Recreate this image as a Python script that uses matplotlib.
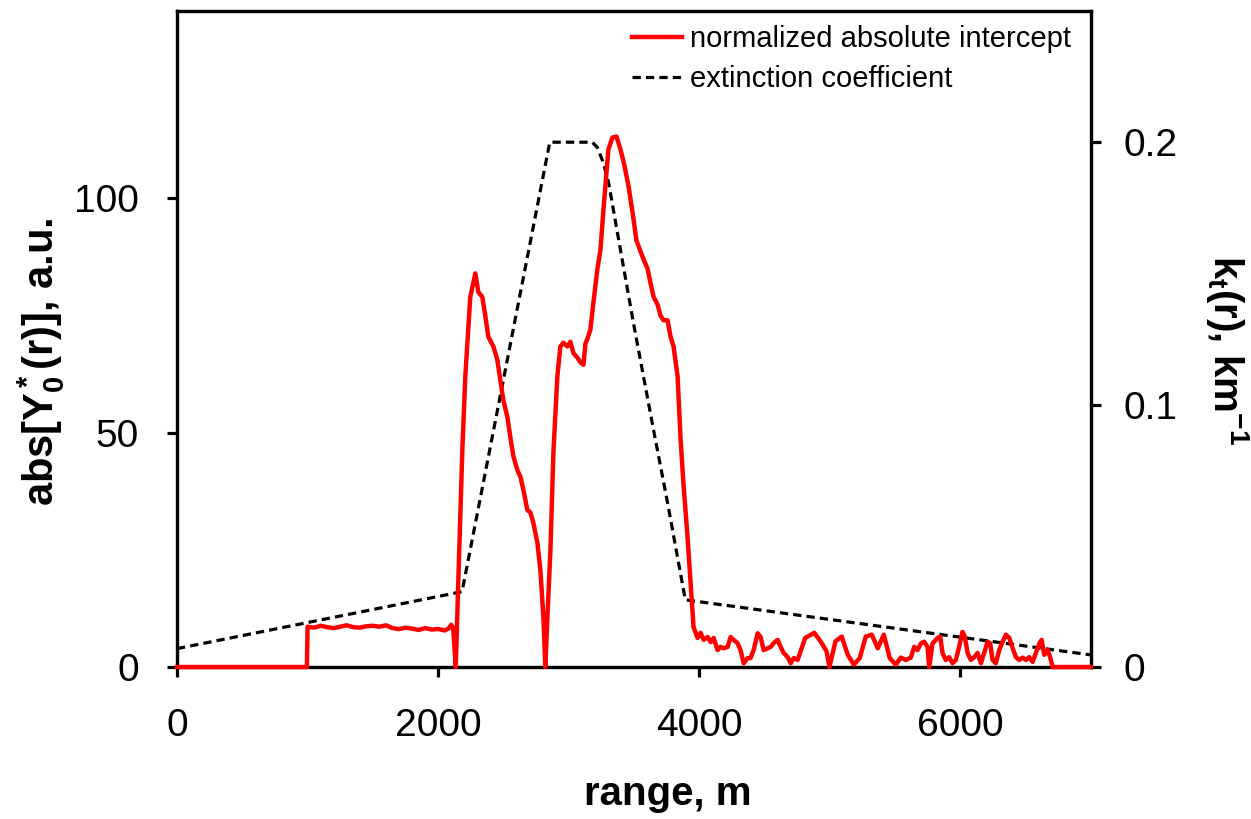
import matplotlib
matplotlib.use("Agg")
import matplotlib.pyplot as plt

plt.rcParams['font.family'] = 'Liberation Sans'
plt.rcParams['mathtext.fontset'] = 'custom'
plt.rcParams['mathtext.rm'] = 'Liberation Sans:bold'
plt.rcParams['mathtext.it'] = 'Liberation Sans:bold'
plt.rcParams['mathtext.bf'] = 'Liberation Sans:bold'

# normalized absolute intercept (left axis)
range_m = [0, 995, 1000, 1050, 1100, 1150, 1200, 1250, 1300, 1350, 1400, 1450,
           1500, 1550, 1600, 1650, 1700, 1750, 1800, 1850, 1900, 1950, 2000,
           2050, 2080, 2100, 2115, 2135,
           2154, 2185, 2208, 2246, 2285, 2308, 2338, 2361, 2384, 2423, 2453,
           2476, 2499, 2530, 2553, 2576, 2607, 2630, 2653, 2683, 2706, 2729,
           2760, 2783, 2806, 2821, 2837, 2860, 2883, 2913, 2936, 2959, 2990,
           3013, 3036, 3067, 3090, 3113, 3128, 3143, 3166, 3190, 3220, 3243,
           3266, 3281, 3304, 3335, 3366, 3396, 3427, 3458, 3489, 3519, 3573,
           3604, 3626, 3650, 3680, 3703, 3726, 3757, 3780, 3803, 3834, 3856,
           3879, 3910, 3933, 3956, 3987, 4010,
           4033, 4064, 4087, 4110, 4140, 4163, 4186, 4217, 4240, 4263, 4293,
           4316, 4340, 4370, 4393, 4416, 4447, 4470, 4493, 4523, 4547, 4570,
           4600, 4623, 4646, 4677, 4700, 4723, 4753,
           4811, 4881, 4928, 4974, 4997, 5043, 5091, 5137, 5183, 5229, 5275,
           5321, 5367, 5413, 5459, 5505,
           5543, 5582, 5620, 5646, 5671, 5697, 5722, 5748, 5761, 5786, 5825,
           5845, 5863, 5888, 5914, 5940, 5965, 5990, 6016, 6034, 6055, 6080,
           6105, 6131, 6157, 6182, 6208, 6228, 6246, 6271, 6297, 6323, 6348,
           6374, 6400, 6425, 6450, 6476, 6502, 6527, 6553, 6578, 6604, 6622,
           6642, 6668, 6688, 6706, 7000]
intercept = [0, 0, 8.6, 8.4, 8.8, 8.5, 8.3, 8.6, 8.9, 8.5, 8.4, 8.7,
             8.8, 8.6, 8.9, 8.3, 8.1, 8.4, 8.2, 7.9, 8.3, 8.0, 8.1,
             7.8, 8.2, 9.0, 8.3, 0,
             18, 46, 62, 79, 84, 80, 79, 75, 70.5, 68.4, 65.6,
             61.3, 57, 53.4, 49, 45, 42, 40.6, 37.8, 33.5, 33, 30.8,
             26.5, 20.7, 10.7, 0, 10.7, 25, 46, 62, 68.4, 69.2, 68.4,
             69.4, 67, 66, 65, 64.5, 69, 70, 72, 78, 85, 89,
             97.6, 102.6, 110.5, 113, 113.2, 110.5, 107, 102.6, 97, 91, 87,
             85, 82, 79, 77.4, 75, 74, 74, 70.5, 68.4, 62, 49,
             39, 27.8, 18, 8.5, 6.2, 7.3,
             5.8, 6.4, 5.3, 6.2, 3.6, 4.3, 4, 4.3, 6.4, 5.8, 5.1,
             3.6, 0.8, 1.9, 1.9, 3.6, 7.2, 6.4, 3.6, 4, 4.3, 5.1,
             5.8, 4.3, 3, 2.1, 0.8, 1.9, 1.5,
             6.2, 7.3, 5.5, 3.4, 0, 5.5, 6.5, 2.6, 0.5, 1.9, 6.5,
             6.9, 4, 6.9, 1.9, 0.5,
             2, 1.5, 2, 4.3, 3.6, 5, 5.4, 4.3, 0, 5, 6.2,
             6.5, 3, 1.5, 2.1, 0.8, 1.5, 4.3, 7.5, 6.4, 3, 1.5,
             2.1, 3, 0.8, 3, 5.4, 5, 1.5, 0.8, 3.6, 5.4, 6.9,
             6.2, 4, 2.1, 1.5, 2, 1.5, 2.1, 1.1, 3, 5, 5.8,
             2.6, 3.6, 2, 0, 0]

# extinction coefficient (right axis)
ext_range = [0, 2183, 2855, 3180, 3220, 3266, 3304, 3396, 3496, 3649, 3757, 3893, 7000]
extinction = [0.007, 0.0287, 0.2, 0.2, 0.198, 0.192, 0.185, 0.159, 0.131, 0.0905,
              0.0626, 0.0256, 0.0046]

W, H = 1251, 819
fig = plt.figure(figsize=(W / 100, H / 100), dpi=100)
ax = fig.add_axes([177 / W, 1 - 667 / H, (1091 - 177) / W, (667 - 11) / H])
ax2 = ax.twinx()

line1, = ax.plot(range_m, intercept, color='red', lw=3.2, clip_on=False,
                 label='normalized absolute intercept', zorder=5)
line2, = ax2.plot(ext_range, extinction, color='black', lw=2.3,
                  linestyle=(0, (2.6, 1.6)), label='extinction coefficient')

ax.set_zorder(ax2.get_zorder() + 1)
ax.patch.set_visible(False)

ax.set_xlim(0, 7000)
ax.set_ylim(0, 140)
ax2.set_ylim(0, 0.25)
ax.set_xticks([0, 2000, 4000, 6000])
ax.set_yticks([0, 50, 100])
ax2.set_yticks([0, 0.1, 0.2])
ax2.set_yticklabels(['0', '0.1', '0.2'])

for a in (ax, ax2):
    for s in a.spines.values():
        s.set_linewidth(2.3)
ax.tick_params(axis='both', direction='out', length=7.5, width=2.3, labelsize=28)
ax.tick_params(axis='y', pad=20)
ax.tick_params(axis='x', pad=22)
ax2.tick_params(axis='y', direction='out', length=7.5, width=2.3, labelsize=28, pad=16)

ax.set_xlabel('range, m', fontsize=29, fontweight='bold', va='center')
ax.xaxis.set_label_coords(0.537, -0.194)
ax.set_ylabel(r'abs[Y$_0^*$(r)], a.u.', fontsize=30, fontweight='bold',
              va='center', rotation_mode='default')
ax.yaxis.set_label_coords((41 - 177) / 914, 0.465)
ax2.set_ylabel(r'k$_t$(r), km$^{-1}$', fontsize=29, fontweight='bold',
               rotation=270, va='center', ha='center', rotation_mode='default')
ax2.yaxis.set_label_coords((1227 - 177) / 914, 0.483)

fig.legend(handles=[line1, line2], loc='upper left',
           bbox_to_anchor=(632 / W, 1 - 25 / H), frameon=False, fontsize=21,
           borderpad=0, borderaxespad=0, handlelength=1.7, handletextpad=0.28,
           labelspacing=0.42)

fig.savefig('out.png', dpi=100)
